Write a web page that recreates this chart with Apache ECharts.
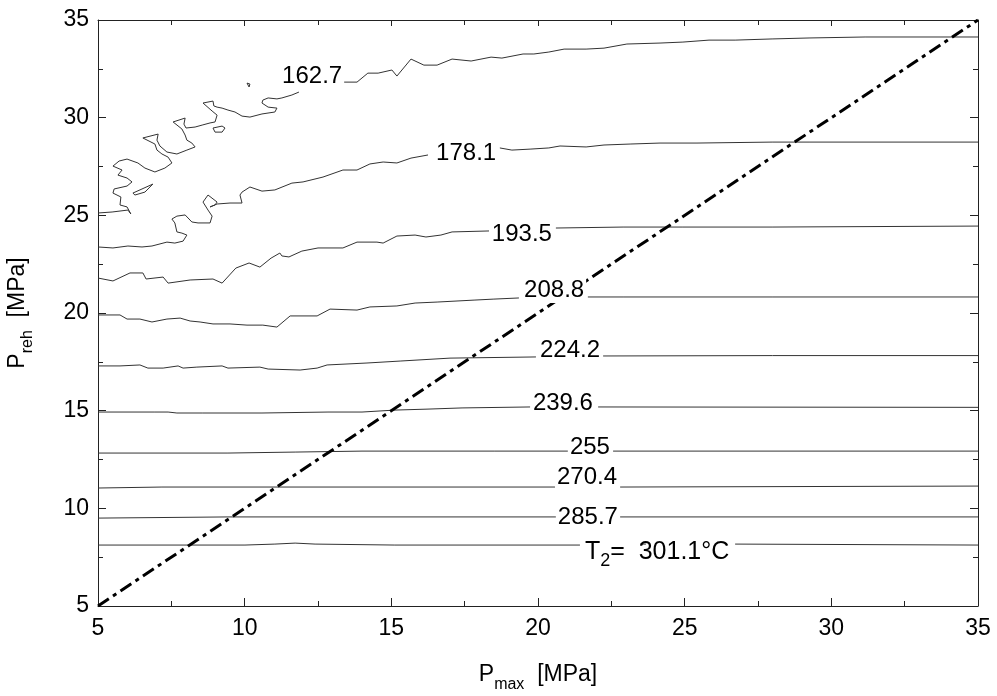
<!DOCTYPE html>
<html>
<head>
<meta charset="utf-8">
<script src="https://cdn.jsdelivr.net/npm/echarts@6/dist/echarts.min.js"></script>
<style>html,body{margin:0;padding:0;background:#fff;}#c{width:997px;height:696px;}</style>
</head>
<body>
<div id="c"></div>
<script>
// ---- data (x = Pmax [MPa], y = Preh [MPa]) ----
const xTicks = [5, 10, 15, 20, 25, 30, 35];
const yTicks = [5, 10, 15, 20, 25, 30, 35];

const c1627a = [[5.00,25.12],[5.48,25.17],[6.02,25.27],[6.12,25.07],[5.99,25.43],[5.75,25.53],[5.78,25.94],[5.51,26.14],[5.55,26.35],[5.99,26.50],[6.16,26.71],[5.99,26.91],[5.68,27.06],[5.82,27.32],[5.51,27.52],[5.72,27.78],[5.99,27.88],[6.36,27.68],[6.60,27.42],[6.94,27.22],[7.28,27.42],[7.52,27.68],[7.39,27.98],[7.18,28.14],[7.01,28.34],[6.94,28.65],[6.53,28.96],[7.05,29.16],[7.01,28.85],[7.11,28.55],[7.35,28.24],[7.69,28.14],[8.03,28.34],[8.31,28.50],[8.37,28.60],[8.20,28.70],[8.03,28.85],[7.97,29.11],[7.86,29.42],[7.56,29.78],[7.97,29.98],[7.93,29.67],[8.00,29.47],[8.31,29.52],[8.55,29.62],[8.82,29.73],[8.99,29.78],[9.06,30.13],[8.89,30.34],[8.58,30.75],[8.92,30.85],[8.95,30.60],[9.06,30.54],[9.23,30.49],[9.43,30.39],[9.67,30.29],[9.91,30.08],[10.18,30.03],[10.59,30.19],[11.03,30.29],[11.10,30.49],[10.80,30.54],[10.59,30.75],[10.62,30.90],[10.80,31.01],[11.10,30.96],[11.27,31.01],[11.61,31.16],[11.85,31.31]];
const c1627loop1 = [[8.92,29.47],[9.23,29.57],[9.33,29.47],[9.23,29.26],[8.99,29.26],[8.92,29.47]];
const c1627loop2 = [[6.19,26.14],[6.87,26.60],[6.60,26.19],[6.26,26.04],[6.19,26.14]];
const c1627loop3 = [[10.08,31.77],[10.18,31.72],[10.15,31.57],[10.08,31.77]];
const c1627b = [[13.35,31.82],[13.83,31.82],[14.20,32.28],[14.55,32.28],[15.02,32.44],[15.19,32.13],[15.67,33.00],[16.11,32.69],[16.56,32.69],[17.07,33.00],[17.72,32.90],[18.40,33.10],[18.77,33.05],[19.49,33.26],[19.86,33.26],[20.37,33.36],[20.89,33.51],[21.64,33.51],[22.25,33.56],[23.03,33.77],[24.16,33.82],[24.94,33.87],[25.83,33.97],[26.72,33.97],[27.98,34.03],[29.24,34.08],[31.15,34.13],[35,34.13]];

const c1781a = [[5,23.38],[5.51,23.33],[6.02,23.43],[6.50,23.38],[6.84,23.43],[7.35,23.63],[7.62,23.58],[7.90,23.68],[8.03,23.99],[7.86,24.09],[7.69,24.15],[7.62,24.61],[7.52,24.81],[7.69,24.96],[7.97,25.02],[8.20,24.66],[8.41,24.61],[8.82,24.61],[8.89,24.96],[8.75,25.27],[8.58,25.68],[8.75,26.04],[9.06,25.68],[8.99,25.53],[8.82,25.43],[9.06,25.58],[9.50,25.63],[9.91,25.63],[9.94,25.68],[9.84,26.04],[9.91,26.19],[10.18,26.45],[10.59,26.24],[11.03,26.30],[11.61,26.65],[11.99,26.71],[12.67,26.96],[13.35,27.32],[13.83,27.32],[14.27,27.63],[14.72,27.73],[15.19,27.68],[15.67,27.93],[16.25,28.09]];
const c1781b = [[18.70,28.45],[19.11,28.34],[19.73,28.39],[20.37,28.45],[20.75,28.55],[21.64,28.50],[22.25,28.60],[23.14,28.65],[24.16,28.70],[25.42,28.70],[27.98,28.75],[29.24,28.75],[35,28.75]];

const c1935a = [[5,21.79],[5.51,21.64],[6.09,22.05],[6.53,22.05],[6.64,21.74],[7.22,21.84],[7.39,21.53],[8.14,21.69],[8.92,21.74],[9.23,21.53],[9.70,22.30],[10.15,22.56],[10.52,22.35],[10.90,22.81],[11.20,23.07],[11.27,22.92],[11.51,22.87],[11.95,23.17],[12.50,23.33],[13.35,23.33],[13.83,23.63],[14.51,23.63],[14.72,23.58],[15.19,23.94],[15.81,23.99],[16.18,23.89],[16.69,23.99],[17.07,24.15],[18.33,24.20]];
const c1935b = [[20.61,24.35],[22.90,24.40],[24.94,24.40],[27.98,24.40],[35,24.45]];

const c2088a = [[5,19.90],[5.75,19.90],[5.99,19.69],[6.43,19.69],[6.84,19.54],[7.35,19.69],[7.80,19.74],[8.14,19.59],[8.48,19.54],[8.92,19.44],[9.50,19.44],[10.08,19.38],[10.62,19.38],[11.10,19.28],[11.55,19.85],[12.47,19.85],[12.91,20.20],[13.83,20.15],[14.27,20.31],[15.19,20.36],[15.81,20.51],[16.56,20.56],[17.82,20.66],[18.47,20.71],[19.35,20.77]];
const c2088b = [[21.70,20.82],[22.90,20.82],[27.98,20.82],[35,20.82]];

const c2242a = [[5,17.29],[5.75,17.29],[6.43,17.34],[6.70,17.18],[7.22,17.18],[7.73,17.29],[7.90,17.18],[8.37,17.23],[9.23,17.29],[9.43,17.18],[10.52,17.23],[10.80,17.13],[11.89,17.08],[12.47,17.18],[12.81,17.34],[14.17,17.44],[15.30,17.54],[17.00,17.69],[19.93,17.75]];
const c2242b = [[22.22,17.80],[28,17.82],[35,17.82]];

const c2396a = [[5,14.93],[6.94,14.93],[7.39,14.93],[7.69,14.88],[8.55,14.88],[10.59,14.88],[12.84,14.93],[14.00,14.93],[15.12,15.03],[16.25,15.08],[17.41,15.14],[19.73,15.19]];
const c2396b = [[22.05,15.19],[35,15.17]];

const c255a = [[5,12.83],[9.43,12.83],[11.72,12.88],[14.00,12.93],[18.53,12.93],[21.02,12.93]];
const c255b = [[22.56,12.93],[35,12.93]];

const c2704a = [[5,11.04],[7.18,11.09],[16.25,11.09],[20.61,11.09]];
const c2704b = [[22.80,11.09],[35,11.14]];

const c2857a = [[5,9.50],[9.43,9.56],[16.25,9.56],[20.65,9.56]];
const c2857b = [[22.80,9.56],[35,9.56]];

const c3011a = [[5,8.12],[10.01,8.12],[11.03,8.17],[11.72,8.22],[12.40,8.17],[15.12,8.12],[21.43,8.12]];
const c3011c = [[23.48,8.17],[23.68,8.17]];
const c3011b = [[26.72,8.17],[35,8.12]];

const diagonal = [[5,5],[35,35]];

const labelTexts = ['162.7','178.1','193.5','208.8','224.2','239.6','255','270.4','285.7','T2=301.1'];
const labelPos = [[12.30,32.13],[17.55,28.19],[19.45,24.04],[20.55,21.18],[21.09,18.10],[20.85,15.39],[21.77,13.14],[21.67,11.60],[21.70,9.56],[24.06,7.61]];

// ---- chart ----
const FONT = 'Liberation Sans, Arial, sans-serif';
const contourPieces = [c1627a,c1627loop1,c1627loop2,c1627loop3,c1627b,c1781a,c1781b,c1935a,c1935b,c2088a,c2088b,c2242a,c2242b,c2396a,c2396b,c255a,c255b,c2704a,c2704b,c2857a,c2857b,c3011a,c3011c,c3011b];

const series = contourPieces.map(d => ({
  type: 'line', data: d, symbol: 'none', silent: true, animation: false,
  lineStyle: { color: '#333', width: 1 }, z: 2
}));
series.push({
  type: 'line', data: diagonal, symbol: 'none', silent: true, animation: false,
  lineStyle: { color: '#000', width: 3, type: [13, 5, 4, 5] }, z: 3
});
series.push({
  type: 'scatter', symbolSize: 0, silent: true, animation: false, z: 5,
  itemStyle: { color: '#000', opacity: 1 },
  data: labelPos.map((p, i) => [p[0], p[1], labelTexts[i]]),
  label: {
    show: true, position: 'inside', color: '#000', opacity: 1, textBorderWidth: 0, textShadowBlur: 0,
    fontFamily: FONT, fontSize: 24,
    formatter: p => {
      const t = p.value[2];
      if (t.indexOf('T2=') === 0) return '{a|T}{s|2}{a|=  301.1°C}';
      return '{n|' + t + '}';
    },
    rich: {
      n: { fontSize: 24, fontFamily: FONT, color: '#000', backgroundColor: '#fff', padding: [1, 2, 1, 2], textBorderWidth: 0 },
      a: { fontSize: 25, fontFamily: FONT, color: '#000', padding: [0, 0, 6, 0], verticalAlign: 'bottom', textBorderWidth: 0 },
      s: { fontSize: 18, fontFamily: FONT, color: '#000', padding: [13, 0, 0, 0], verticalAlign: 'bottom', textBorderWidth: 0 }
    }
  }
});

const axisCommon = {
  type: 'value', min: 5, max: 35, interval: 5,
  splitLine: { show: false },
  axisLine: { show: true, onZero: false, lineStyle: { color: '#222', width: 1 } },
  axisTick: { show: true, inside: true, length: 8, lineStyle: { color: '#222' } },
  minorTick: { show: true, splitNumber: 2, length: 5, lineStyle: { color: '#222' } }
};
const chart = echarts.init(document.getElementById('c'), null, { renderer: 'canvas' });
chart.setOption({
  backgroundColor: '#fff',
  animation: false,
  grid: { left: 98, right: 19, top: 20, bottom: 90, containLabel: false, outerBoundsMode: 'none' },
  xAxis: [
    Object.assign({}, axisCommon, {
      position: 'bottom',
      axisLabel: { show: true, fontSize: 23, fontFamily: FONT, color: '#000', margin: 11,
        formatter: v => (xTicks.indexOf(v) >= 0 ? String(v) : '') },
      name: '{a|P}{s|max}{a|  [MPa]}', nameLocation: 'middle', nameGap: 57,
      nameTextStyle: { rich: {
        a: { fontSize: 23, fontFamily: FONT, color: '#000', padding: [0, 0, 7, 0], verticalAlign: 'bottom' },
        s: { fontSize: 16, fontFamily: FONT, color: '#000', padding: [11, 0, 0, 0], verticalAlign: 'bottom' } } }
    }),
    Object.assign({}, axisCommon, { position: 'top', axisLabel: { show: false },
      axisTick: { show: true, inside: true, length: 6, lineStyle: { color: '#222' } } })
  ],
  yAxis: [
    Object.assign({}, axisCommon, {
      position: 'left',
      axisLabel: { show: true, fontSize: 23, fontFamily: FONT, color: '#000', margin: 9,
        formatter: v => (yTicks.indexOf(v) >= 0 ? String(v) : '') },
      name: '{a|P}{s|reh}{a|  [MPa]}', nameLocation: 'middle', nameGap: 62, nameRotate: 90,
      nameTextStyle: { rich: {
        a: { fontSize: 23, fontFamily: FONT, color: '#000', padding: [0, 0, 7, 0], verticalAlign: 'bottom' },
        s: { fontSize: 16, fontFamily: FONT, color: '#000', padding: [11, 0, 0, 0], verticalAlign: 'bottom' } } }
    }),
    Object.assign({}, axisCommon, { position: 'right', axisLabel: { show: false } })
  ],
  series: series
});
</script>
</body>
</html>
